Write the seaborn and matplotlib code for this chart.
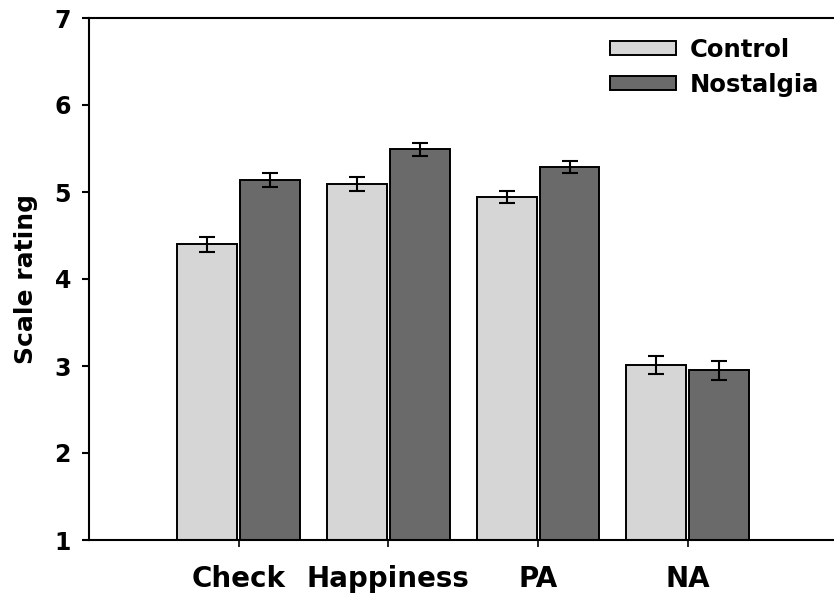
import matplotlib
matplotlib.use("Agg")
import matplotlib.pyplot as plt
import seaborn as sns
import pandas as pd

# Mean scale ratings and standard errors per condition
measures = ["Check", "Happiness", "PA", "NA"]
conditions = ["Control", "Nostalgia"]
control_means = [4.40, 5.09, 4.94, 3.01]
nostalgia_means = [5.14, 5.49, 5.29, 2.95]
control_se = [0.086, 0.077, 0.067, 0.107]
nostalgia_se = [0.084, 0.072, 0.068, 0.107]
y_ticks = [1, 2, 3, 4, 5, 6, 7]

df = pd.DataFrame({
    "measure": measures * 2,
    "condition": [conditions[0]] * 4 + [conditions[1]] * 4,
    "rating": control_means + nostalgia_means,
})
errors = control_se + nostalgia_se

sns.set_style("white")
plt.rcParams["font.family"] = ["DejaVu Sans"]
plt.rcParams["font.weight"] = "bold"
plt.rcParams["text.color"] = "black"
plt.rcParams["axes.labelcolor"] = "black"
plt.rcParams["xtick.color"] = "black"
plt.rcParams["ytick.color"] = "black"

fig = plt.figure(figsize=(8.34, 5.95), dpi=100)
ax = fig.add_axes([89 / 834, 1 - 540 / 595, (833 - 89) / 834, (540 - 18) / 595])

palette = {"Control": "#d6d6d6", "Nostalgia": "#6a6a6a"}
sns.barplot(data=df, x="measure", y="rating", hue="condition", order=measures,
            hue_order=conditions, palette=palette, errorbar=None, width=0.84,
            gap=0.05, edgecolor="black", linewidth=1.4, saturation=1, ax=ax)

bars = [p for p in ax.patches if p.get_height() > 0]
xs = [p.get_x() + p.get_width() / 2 for p in bars]
tops = [p.get_y() + p.get_height() for p in bars]
ax.errorbar(xs, tops, yerr=errors, fmt="none", ecolor="black",
            elinewidth=1.5, capsize=6, capthick=1.5, zorder=5)

ax.set_ylim(1, 7)
ax.set_xlim(-1.0, 3.97)
ax.set_yticks(y_ticks)
ax.set_yticklabels([str(t) for t in y_ticks], fontsize=17, fontweight="bold")
ax.set_xticks(range(len(measures)))
ax.set_xticklabels(measures, fontsize=20, fontweight="bold")
ax.set_xlabel("")
ax.set_ylabel("Scale rating", fontsize=18, fontweight="bold", labelpad=12)

ax.tick_params(axis="y", direction="out", length=5, width=1.5, pad=8, left=True)
ax.tick_params(axis="x", direction="out", length=5, width=1.2, pad=13, bottom=True)
for side in ["left", "bottom", "top"]:
    ax.spines[side].set_visible(True)
    ax.spines[side].set_linewidth(1.5)
    ax.spines[side].set_color("black")
ax.spines["right"].set_visible(False)

handles, labels = ax.get_legend_handles_labels()
leg = ax.legend(handles, labels, loc="upper left",
                bbox_to_anchor=(610 / 834, 1 - 38 / 595),
                bbox_transform=fig.transFigure, frameon=False,
                prop={"size": 17.5, "weight": "bold"}, handlelength=2.7,
                handleheight=0.5, handletextpad=0.6, labelspacing=0.45,
                borderpad=0, borderaxespad=0)

fig.savefig("out.png", dpi=100)
